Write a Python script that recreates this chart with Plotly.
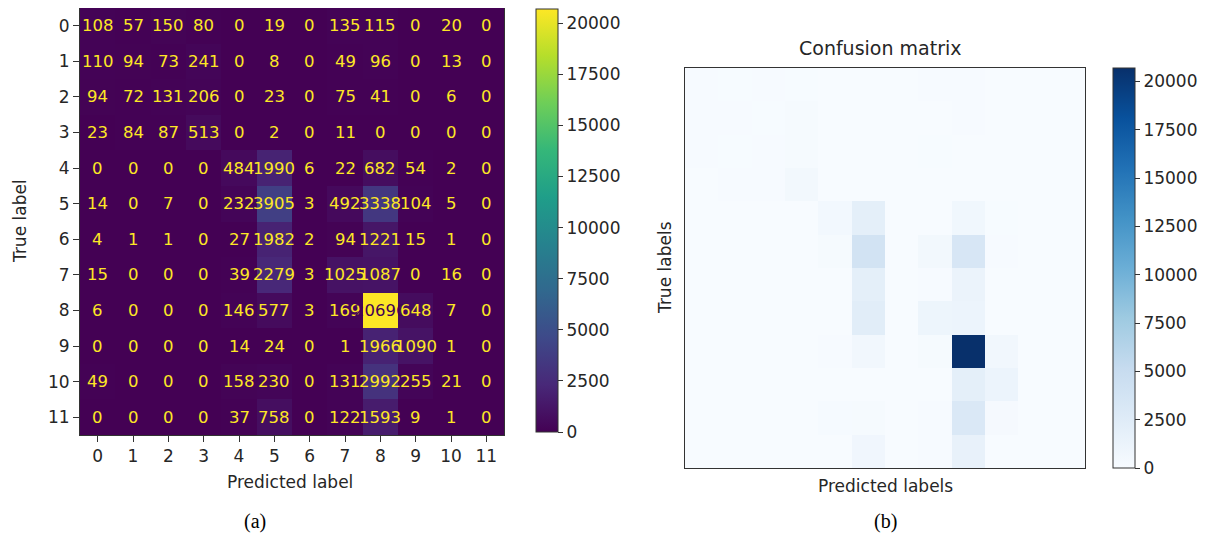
import plotly.graph_objects as go

labels = list(range(12))
tick_text = [str(i) for i in labels]

cm = [
    [108, 57, 150, 80, 0, 19, 0, 135, 115, 0, 20, 0],
    [110, 94, 73, 241, 0, 8, 0, 49, 96, 0, 13, 0],
    [94, 72, 131, 206, 0, 23, 0, 75, 41, 0, 6, 0],
    [23, 84, 87, 513, 0, 2, 0, 11, 0, 0, 0, 0],
    [0, 0, 0, 0, 484, 1990, 6, 22, 682, 54, 2, 0],
    [14, 0, 7, 0, 232, 3905, 3, 492, 3338, 104, 5, 0],
    [4, 1, 1, 0, 27, 1982, 2, 94, 1221, 15, 1, 0],
    [15, 0, 0, 0, 39, 2279, 3, 1025, 1087, 0, 16, 0],
    [6, 0, 0, 0, 146, 577, 3, 169, 20696, 648, 7, 0],
    [0, 0, 0, 0, 14, 24, 0, 1, 1966, 1090, 1, 0],
    [49, 0, 0, 0, 158, 230, 0, 131, 2992, 255, 21, 0],
    [0, 0, 0, 0, 37, 758, 0, 122, 1593, 9, 1, 0],
]
cbar_ticks = [0, 2500, 5000, 7500, 10000, 12500, 15000, 17500, 20000]
cbar_text = [str(t) for t in cbar_ticks]

W, H = 1211, 539
OFF = 8  # page body margin
def px(x):
    return min(1.0, max(0.0, (x - OFF) / W))
def py(y):
    return min(1.0, max(0.0, 1 - (y - OFF) / H))

zmax = max(max(r) for r in cm)
FONT = "DejaVu Sans"
TXT = "#262626"

def cbar(x0, y0, y1):
    return dict(
        x=px(x0), xanchor="left", xpad=0, y=py(y0), yanchor="top", ypad=0,
        len=(y1 - y0) / H, lenmode="fraction",
        thickness=22, thicknessmode="pixels",
        outlinewidth=1, outlinecolor="#333",
        tickvals=cbar_ticks, ticktext=cbar_text, ticks="outside", ticklen=5,
        tickcolor="#333", tickfont=dict(family=FONT, size=17, color=TXT),
    )

fig = go.Figure()

fig.add_trace(go.Heatmap(
    z=cm, x=labels, y=labels, colorscale="Viridis", zmin=0, zmax=zmax,
    xaxis="x", yaxis="y", hoverinfo="skip", colorbar=cbar(536, 9, 432),
))

fig.add_trace(go.Heatmap(
    z=cm, x=labels, y=labels, colorscale="Blues", zmin=0, zmax=zmax,
    xaxis="x2", yaxis="y2", hoverinfo="skip", colorbar=cbar(1113, 68, 468),
))

annotations = []
for i, row in enumerate(cm):
    for j, v in enumerate(row):
        col = "#440154" if v > zmax / 2 else "#fde725"
        annotations.append(dict(
            x=labels[j], y=labels[i], xref="x", yref="y", text=str(v),
            showarrow=False, font=dict(family=FONT, size=16.5, color=col),
        ))

def label(x, y, text, size=17, angle=0, family=FONT, color=TXT):
    return dict(x=px(x), y=py(y), xref="paper", yref="paper", text=text,
                xanchor="center", yanchor="middle", textangle=angle,
                showarrow=False, font=dict(family=family, size=size, color=color))

annotations += [
    label(20, 221, "True label", angle=-90),
    label(290, 482, "Predicted label"),
    label(880, 48, "Confusion matrix", size=19),
    label(665, 268, "True labels", angle=-90),
    label(885, 486, "Predicted labels"),
    label(255, 521, "(a)", size=20, family="Liberation Serif", color="#000"),
    label(885, 521, "(b)", size=20, family="Liberation Serif", color="#000"),
]

axis_common = dict(showline=True, mirror=True, linecolor="#333", linewidth=1,
                   showgrid=False, zeroline=False, automargin=False)

fig.update_layout(
    width=W, height=H, margin=dict(l=0, r=0, t=0, b=0, autoexpand=False),
    paper_bgcolor="white", plot_bgcolor="white",
    showlegend=False,
    xaxis=dict(domain=[px(80), px(504)], anchor="y", range=[-0.5, 11.5],
               tickvals=labels, ticktext=tick_text, ticks="outside", ticklen=6,
               tickcolor="#333", tickfont=dict(family=FONT, size=17, color=TXT),
               **axis_common),
    yaxis=dict(domain=[py(435), py(8)], anchor="x", range=[11.5, -0.5],
               tickvals=labels, ticktext=tick_text, ticks="outside", ticklen=6,
               tickcolor="#333", tickfont=dict(family=FONT, size=17, color=TXT),
               **axis_common),
    xaxis2=dict(domain=[px(685), px(1085)], anchor="y2", range=[-0.5, 11.5],
                showticklabels=False, ticks="", **axis_common),
    yaxis2=dict(domain=[py(468), py(68)], anchor="x2", range=[11.5, -0.5],
                showticklabels=False, ticks="", **axis_common),
    annotations=annotations,
)

fig.write_html("out.html")
